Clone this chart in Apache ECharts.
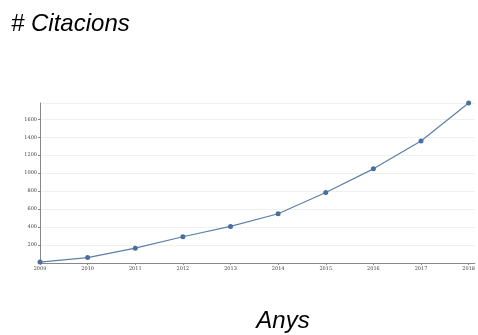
<!DOCTYPE html>
<html>
<head>
<meta charset="utf-8">
<script src="https://cdn.jsdelivr.net/npm/echarts@6/dist/echarts.min.js"></script>
<style>
html, body { margin: 0; padding: 0; background: #fff; }
#chart { width: 478px; height: 335px; }
</style>
</head>
<body>
<div id="chart"></div>
<script>
var years = [2009, 2010, 2011, 2012, 2013, 2014, 2015, 2016, 2017, 2018];
var citations = [10, 60, 165, 292, 407, 548, 785, 1048, 1359, 1781];
var yTicks = [200, 400, 600, 800, 1000, 1200, 1400, 1600];

var myChart = echarts.init(document.getElementById('chart'));
var points = [];
for (var i = 0; i < years.length; i++) {
    points.push([years[i], citations[i]]);
}
var tickFont = { fontFamily: 'DejaVu Serif', fontSize: 5, color: '#444' };
var titleFont = { fontFamily: 'Liberation Sans', fontStyle: 'italic', fontWeight: 'normal', fontSize: 24, color: '#000' };

option = {
    animation: false,
    title: [
        { text: '# Citacions', left: 6, top: 7, textStyle: titleFont },
        { text: 'Anys', left: 278, top: 304, textAlign: 'center', textStyle: titleFont }
    ],
    grid: { left: 40, right: 2, top: 103, bottom: 72, containLabel: false },
    xAxis: {
        type: 'value',
        min: 2009,
        max: 2018.13,
        interval: 1,
        axisLine: { lineStyle: { color: '#888', width: 1 } },
        axisTick: { show: true, length: 2, lineStyle: { color: '#888' } },
        axisLabel: Object.assign({ margin: 3, showMaxLabel: false, formatter: function (v) { return years.indexOf(v) >= 0 ? String(v) : ''; } }, tickFont),
        splitLine: { show: false }
    },
    yAxis: {
        type: 'value',
        min: 0,
        max: citations[citations.length - 1],
        interval: 200,
        axisLine: { show: true, lineStyle: { color: '#888', width: 1 } },
        axisTick: { show: true, length: 2, lineStyle: { color: '#888' } },
        axisLabel: Object.assign({ margin: 3, showMinLabel: false, showMaxLabel: false, formatter: function (v) { return yTicks.indexOf(v) >= 0 ? String(v) : ''; } }, tickFont),
        splitLine: { show: true, lineStyle: { color: '#f0f0f0', width: 1 } }
    },
    series: [
        {
            type: 'line',
            data: points,
            symbol: 'circle',
            symbolSize: 5,
            itemStyle: { color: '#4a6f9c' },
            lineStyle: { color: '#5b80ab', width: 1.2 }
        }
    ]
};
myChart.setOption(option);
</script>
</body>
</html>
